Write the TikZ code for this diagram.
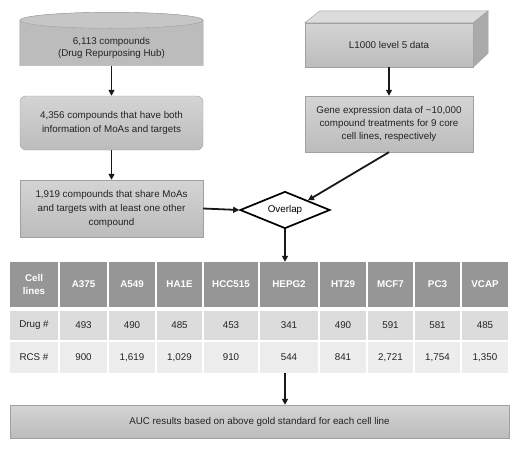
\documentclass[tikz,border=0pt]{standalone}
\usepackage{fontspec}
\setmainfont{Liberation Sans}
\usepackage{tikz}
\usetikzlibrary{shapes.geometric, arrows.meta, positioning, calc}
\definecolor{boxgray}{RGB}{198,198,198}
\definecolor{boxtop}{RGB}{212,212,212}
\definecolor{boxbot}{RGB}{188,188,188}
\definecolor{boxedge}{RGB}{160,160,160}
\definecolor{headgray}{RGB}{150,150,150}
\definecolor{rowdark}{RGB}{220,220,220}
\definecolor{rowlight}{RGB}{237,237,237}
\definecolor{cubetop}{RGB}{220,220,220}
\definecolor{cubeside}{RGB}{170,170,170}
\definecolor{inkgray}{RGB}{35,35,35}
\tikzset{every node/.append style={align=center}}
\tikzset{
  flow/.style={rectangle, draw=boxedge, top color=boxtop, bottom color=boxbot,
    minimum width=183pt, text centered, font=\fontsize{9.8}{14}\selectfont, text=inkgray},
  drum/.style={rectangle, minimum width=183pt, minimum height=35pt, inner sep=0pt,
    font=\fontsize{9.8}{11.5}\selectfont, text=inkgray},
  drumline/.style={draw=boxedge, fill=boxgray!95!black},
  cube/.style={rectangle, draw=boxedge, top color=boxtop, bottom color=boxbot,
    minimum width=168pt, font=\fontsize{9.8}{13}\selectfont, text=inkgray},
  dec/.style={diamond, draw=black, line width=1.7pt, fill=white, aspect=2.4, inner sep=0pt,
    minimum width=90pt, minimum height=37pt, font=\fontsize{9.8}{11}\selectfont},
  headcell/.style={rectangle, fill=headgray, inner sep=0pt, minimum height=45pt,
    font=\fontsize{9.8}{12.5}\selectfont\bfseries, text=white},
  drugcell/.style={rectangle, fill=rowdark, inner sep=0pt, minimum height=29pt,
    font=\fontsize{9.8}{11}\selectfont, text=inkgray},
  rcscell/.style={rectangle, fill=rowlight, inner sep=0pt, minimum height=31pt,
    font=\fontsize{9.8}{11}\selectfont, text=inkgray},
  arrow/.style={-{Triangle[length=6pt,width=6pt]}, line width=1.8pt, black!90}
}

\begin{document}
\begin{tikzpicture}[x=1pt, y=1pt]
  \useasboundingbox (0,0) rectangle (520,-451);
  % left column
  \node[drum] (hub) at (111.5,-48) {};
  \draw[drumline] ($(hub.north west)+(0,10)$) -- (hub.south west) -- (hub.south east)
    -- ($(hub.north east)+(0,10)$) arc[start angle=0, end angle=180, x radius=91.5, y radius=8] -- cycle;
  \draw[drumline, fill=boxgray] ($(hub.north)+(0,10)$) ellipse[x radius=91.5, y radius=8];
  \node[drum] at (hub) {6,113 compounds\\(Drug Repurposing Hub)};
  \node[flow, rounded corners=6pt, minimum height=54pt] (both) at (111.5,-123)
    {4,356 compounds that have both\\information of MoAs and targets};
  \node[flow, minimum height=57pt] (share) at (111.5,-208.5)
    {1,919 compounds that share MoAs\\and targets with at least one other\\compound};
  % right column
  \node[cube, minimum height=44pt] (l1000) at (389,-45) {L1000 level 5 data};
  \draw[draw=boxedge, fill=cubetop] (l1000.north west) -- ++(15,12)
    -- ($(l1000.north east)+(15,12)$) -- (l1000.north east) -- cycle;
  \draw[draw=boxedge, fill=cubeside] (l1000.north east) -- ++(15,12)
    -- ($(l1000.south east)+(15,14)$) -- (l1000.south east) -- cycle;
  \node[cube, minimum height=56pt] (expr) at (389,-124)
    {Gene expression data of \textasciitilde10,000\\compound treatments for 9 core\\cell lines, respectively};
  \node[dec] (overlap) at (285,-210) {Overlap};
  % table
  \foreach \n/\xl/\w/\hd/\dr/\rc in {
      1/10/48/{Cell\\lines}/Drug \#/RCS \#,
      2/60/47/A375/493/900,
      3/109/46/A549/490/{1,619},
      4/157/45/HA1E/485/{1,029},
      5/204/54/HCC515/453/910,
      6/260/58/HEPG2/341/544,
      7/320/46/HT29/490/841,
      8/368/45/MCF7/591/{2,721},
      9/415/45/PC3/581/{1,754},
      10/462/46/VCAP/485/{1,350}} {
    \node[headcell, minimum width=\w pt] (h\n) at (\xl+\w/2,-284.5) {\hd};
    \node[drugcell, minimum width=\w pt] (d\n) at (\xl+\w/2,-325.5) {\dr};
    \node[rcscell, minimum width=\w pt] (r\n) at (\xl+\w/2,-357.5) {\rc};
  }
  \node[flow, minimum width=499pt, minimum height=33pt] (auc) at (259.5,-421.5)
    {AUC results based on above gold standard for each cell line};
  % connectors
  \draw[arrow] (hub.south) -- (both.north);
  \draw[arrow] (both.south) -- (share.north);
  \draw[arrow] (l1000.south) -- (expr.north);
  \draw[arrow] (share.east) -- (overlap.west);
  \draw[arrow] (expr.south) -- (overlap.north east);
  \draw[arrow] (overlap.south) -- (overlap.south |- h6.north);
  \draw[arrow] (overlap.south |- r6.south) -- (overlap.south |- auc.north);
\end{tikzpicture}
\end{document}
